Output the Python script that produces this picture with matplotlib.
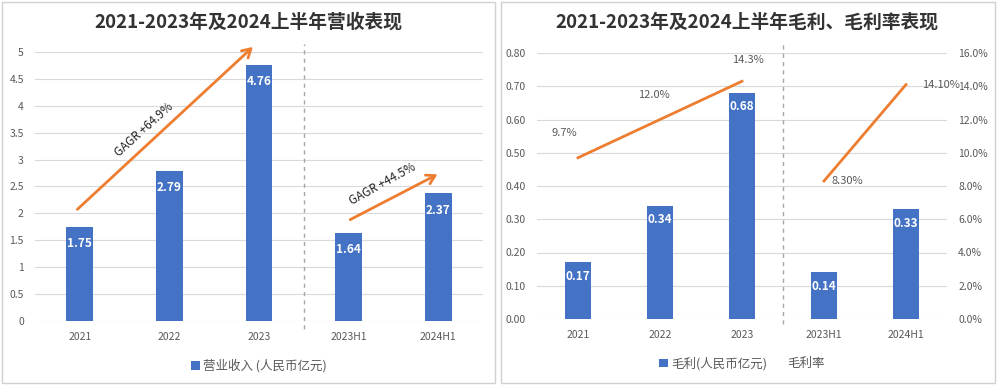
import matplotlib
matplotlib.use("Agg")
import matplotlib.pyplot as plt
from matplotlib.patches import Rectangle
from matplotlib.lines import Line2D

plt.rcParams['font.family'] = ['Noto Sans CJK SC', 'DejaVu Sans']

categories = ["2021", "2022", "2023", "2023H1", "2024H1"]
revenue = [1.75, 2.79, 4.76, 1.64, 2.37]
gross_profit = [0.17, 0.34, 0.68, 0.14, 0.33]
margin_annual = [9.7, 12.0, 14.3]
margin_half = [8.3, 14.1]
margin_annual_labels = ["9.7%", "12.0%", "14.3%"]
margin_half_labels = ["8.30%", "14.10%"]
left_yticks = [0, 0.5, 1, 1.5, 2, 2.5, 3, 3.5, 4, 4.5, 5]
right_yticks = [0, 0.1, 0.2, 0.3, 0.4, 0.5, 0.6, 0.7, 0.8]
pct_ticks = [0, 2, 4, 6, 8, 10, 12, 14, 16]

BLUE = "#4472C4"
ORANGE = "#ED7D31"
GRID = "#D9D9D9"
TXT = "#595959"

W, H = 998, 386
fig = plt.figure(figsize=(W / 100, H / 100), dpi=100)

def fx(px):
    return px / W

def fy(py):
    return 1 - py / H

# panel borders
for x0, x1 in [(2, 495), (501, 995)]:
    fig.patches.append(Rectangle((fx(x0), fy(383)), fx(x1 - x0), (381) / H,
                                 transform=fig.transFigure, fill=False,
                                 edgecolor="#D0D0D0", lw=1.0))

x = list(range(len(categories)))

def style(ax):
    for s in ax.spines.values():
        s.set_visible(False)
    ax.tick_params(length=0, colors=TXT, labelsize=7.5)
    ax.set_xlim(-0.5, len(categories) - 0.5)
    ax.grid(axis="y", color=GRID, lw=0.8)
    ax.set_axisbelow(True)

# ---------- left panel ----------
ax1 = fig.add_axes([fx(35), fy(321), fx(483 - 35), (321 - 52) / H])
style(ax1)
bars = ax1.bar(x, revenue, width=0.3, color=BLUE, label="营业收入 (人民币亿元)", zorder=2)
ax1.set_ylim(0, 5)
ax1.set_yticks(left_yticks)
ax1.set_yticklabels([f"{v:g}" for v in left_yticks])
ax1.set_xticks(x)
ax1.set_xticklabels(categories)
ax1.tick_params(axis="x", pad=8)
ax1.tick_params(axis="y", pad=8)
for xi, v in zip(x, revenue):
    ax1.annotate(f"{v:.2f}", (xi, v), xytext=(0, -12), textcoords="offset points",
                 ha="center", va="center", color="white", fontsize=8.5, fontweight="bold")
ax1.axvline(2.5, ymin=-0.03, ymax=1.03, color="#A6A6A6", ls=(0, (3, 3)), lw=1, clip_on=False)
ax1.annotate("", xy=(1.955, 5.13), xytext=(-0.05, 2.04),
             arrowprops=dict(arrowstyle="->,head_length=0.6,head_width=0.35", color=ORANGE, lw=2),
             annotation_clip=False)
ax1.annotate("", xy=(4.02, 2.75), xytext=(2.99, 1.86),
             arrowprops=dict(arrowstyle="->,head_length=0.6,head_width=0.35", color=ORANGE, lw=2),
             annotation_clip=False)
ax1.text(0.72, 3.55, "GAGR +64.9%", rotation=42, ha="center", va="center",
         fontsize=8.5, color="#222222")
ax1.text(3.38, 2.55, "GAGR +44.5%", rotation=29, ha="center", va="center",
         fontsize=8.5, color="#222222")
fig.text(fx(248), fy(22), "2021-2023年及2024上半年营收表现", fontsize=13.5,
         fontweight="bold", color="#333333", ha="center", va="center")
ax1.legend(loc="upper center", bbox_to_anchor=(0.5, -0.10), frameon=False,
           fontsize=9, labelcolor=TXT, handlelength=0.7, handleheight=0.7,
           handletextpad=0.3)

# ---------- right panel ----------
ax2 = fig.add_axes([fx(537), fy(319), fx(947 - 537), (319 - 53) / H])
style(ax2)
ax2.bar(x, gross_profit, width=0.32, color=BLUE, label="毛利(人民币亿元)", zorder=2)
ax2.set_ylim(0, 0.8)
ax2.set_yticks(right_yticks)
ax2.set_yticklabels([f"{v:.2f}" for v in right_yticks])
ax2.set_xticks(x)
ax2.set_xticklabels(categories)
ax2.tick_params(axis="x", pad=8)
ax2.tick_params(axis="y", pad=8)
for xi, v in zip(x, gross_profit):
    ax2.annotate(f"{v:.2f}", (xi, v), xytext=(0, -10), textcoords="offset points",
                 ha="center", va="center", color="white", fontsize=8.5, fontweight="bold")
ax2.axvline(2.5, ymin=-0.02, ymax=1.04, color="#A6A6A6", ls=(0, (3, 3)), lw=1, clip_on=False)

ax3 = ax2.twinx()
for s in ax3.spines.values():
    s.set_visible(False)
ax3.tick_params(length=0, colors=TXT, labelsize=7.5, pad=8)
ax3.set_ylim(0, 16)
ax3.set_yticks(pct_ticks)
ax3.set_yticklabels([f"{v:.1f}%" for v in pct_ticks])
ax3.plot(x[:3], margin_annual, color=ORANGE, lw=2)
ax3.plot(x[3:], margin_half, color=ORANGE, lw=2)
annual_offsets = [(-10, 18), (-4, 18), (4, 15)]
for xi, v, lab, off in zip(x[:3], margin_annual, margin_annual_labels, annual_offsets):
    ax3.annotate(lab, (xi, v), xytext=off, textcoords="offset points",
                 ha="center", va="center", color=TXT, fontsize=8)
half_offsets = [(17, 0), (25, 0)]
for xi, v, lab, off in zip(x[3:], margin_half, margin_half_labels, half_offsets):
    ax3.annotate(lab, (xi, v), xytext=off, textcoords="offset points",
                 ha="center", va="center", color=TXT, fontsize=8)
fig.text(fx(747), fy(22), "2021-2023年及2024上半年毛利、毛利率表现", fontsize=13.5,
         fontweight="bold", color="#333333", ha="center", va="center")
h, l = ax2.get_legend_handles_labels()
h.append(Line2D([], [], color="none"))
l.append("毛利率")
ax2.legend(h, l, loc="upper center", bbox_to_anchor=(0.5, -0.10), frameon=False, ncol=2,
           fontsize=9, labelcolor=TXT, handlelength=0.7, handleheight=0.7,
           handletextpad=0.3, columnspacing=0.6)

fig.savefig("out.png", dpi=100)
